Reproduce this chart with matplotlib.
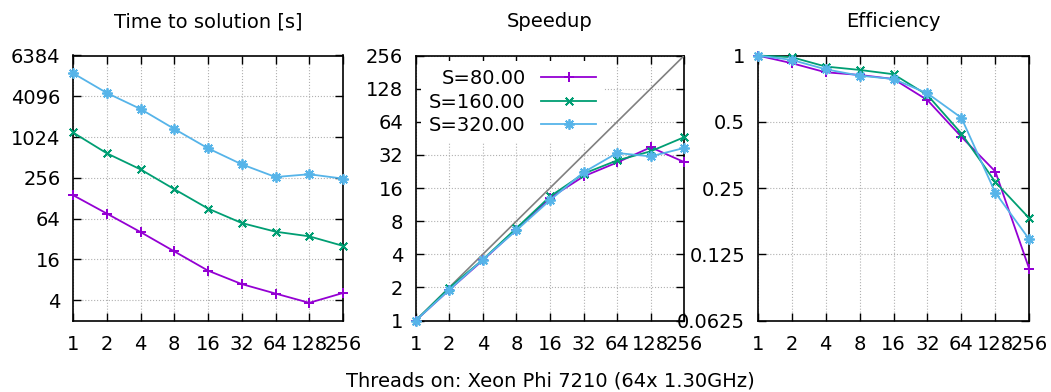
import matplotlib
matplotlib.use("Agg")
import matplotlib.pyplot as plt
import numpy as np

plt.rcParams['font.family'] = ['DejaVu Sans']

threads = [1, 2, 4, 8, 16, 32, 64, 128, 256]
labels = ["S=80.00", "S=160.00", "S=320.00"]
colors = ["#9400d3", "#009e73", "#56b4e9"]

time_s80 = [142, 76, 40.5, 21, 10.9, 6.9, 5.0, 3.65, 5.1]
time_s160 = [1195, 590, 341, 174, 90, 55, 41, 35, 25.3]
time_s320 = [8980, 4590, 2660, 1350, 698, 405, 263, 289, 249]

speed_s80 = [1, 1.9, 3.53, 6.7, 13.0, 20.4, 27.3, 37.5, 27.5]
speed_s160 = [1, 1.98, 3.58, 6.9, 13.4, 21.6, 28.5, 34.5, 46.4]
speed_s320 = [1, 1.9, 3.58, 6.6, 12.4, 22.2, 33.3, 31.0, 37.0]

eff_s80 = [1, 0.923, 0.839, 0.816, 0.782, 0.627, 0.427, 0.297, 0.107]
eff_s160 = [1, 0.983, 0.891, 0.86, 0.822, 0.661, 0.442, 0.266, 0.182]
eff_s320 = [1, 0.955, 0.866, 0.81, 0.782, 0.673, 0.521, 0.238, 0.146]

time_ticks = [4, 16, 64, 256, 1024, 4096, 16384]
time_ticklabels = ["4", "16", "64", "256", "1024", "4096", "6384"]
speed_ticks = [1, 2, 4, 8, 16, 32, 64, 128, 256]
eff_ticks = [0.0625, 0.125, 0.25, 0.5, 1]
eff_ticklabels = ["0.0625", "0.125", "0.25", "0.5", "1"]

titles = ["Time to solution [s]", "Speedup", "Efficiency"]
xlabel = "Threads on: Xeon Phi 7210 (64x 1.30GHz)"

markers = [(4, 2, 0), (4, 2, 45), (8, 2, 0)]

W, H = 1051, 392
fig = plt.figure(figsize=(W / 100, H / 100), dpi=100)

top_px, bot_px = 55.5, 320.5
lefts = [73, 415.7, 757.7]
rights = [343, 684.3, 1029.3]
axes = []
for l, r in zip(lefts, rights):
    ax = fig.add_axes([l / W, 1 - bot_px / H, (r - l) / W, (bot_px - top_px) / H])
    axes.append(ax)

FS = 14

def style(ax):
    ax.set_xscale('log', base=2)
    ax.set_yscale('log', base=2)
    ax.set_xlim(1, 256)
    ax.set_xticks(threads)
    ax.set_xticklabels([str(t) for t in threads])
    ax.minorticks_off()
    ax.tick_params(axis='both', which='major', direction='in', length=6, width=1,
                   top=True, right=True, labelsize=FS, colors='black')
    ax.tick_params(axis='x', pad=10.5)
    ax.tick_params(axis='y', pad=9)
    ax.grid(True, which='major', color='#b0b0b0', linestyle=':', linewidth=0.8)
    for s in ax.spines.values():
        s.set_linewidth(1.2)

series_sets = [
    [time_s80, time_s160, time_s320],
    [speed_s80, speed_s160, speed_s320],
    [eff_s80, eff_s160, eff_s320],
]

for i, ax in enumerate(axes):
    style(ax)
    if i == 1:
        ax.plot([threads[0], threads[-1]], [threads[0], threads[-1]], color='#808080', lw=1.2, zorder=6)
    for vals, c, m, lab in zip(series_sets[i], colors, markers, labels):
        ax.plot(threads, vals, color=c, lw=1.3, marker=m, markersize=7.5, markeredgewidth=1.3,
                label=lab, zorder=7, clip_on=False)
    ax.set_title(titles[i], fontsize=FS, pad=20.5)

axes[0].set_ylim(2, 16384)
axes[0].set_yticks(time_ticks)
axes[0].set_yticklabels(time_ticklabels)
axes[0].minorticks_off()

axes[1].set_ylim(1, 256)
axes[1].set_yticks(speed_ticks)
axes[1].set_yticklabels([str(t) for t in speed_ticks])
axes[1].minorticks_off()

axes[2].set_ylim(0.0625, 1)
axes[2].set_yticks(eff_ticks)
axes[2].set_yticklabels(eff_ticklabels)
axes[2].minorticks_off()

leg = axes[1].legend(loc='upper right', bbox_to_anchor=(0.701, 0.978), borderaxespad=0,
                     markerfirst=False, fontsize=FS, frameon=True, facecolor='white',
                     edgecolor='none', framealpha=1, fancybox=False, borderpad=0.4,
                     labelspacing=0.23, handlelength=2.83, handletextpad=0.8)
leg.set_zorder(5)

fig.text(550 / W, 1 - 381 / H, xlabel, ha='center', va='center', fontsize=FS)

# right-align legend texts (measure how position maps to pixels first)
fig.canvas.draw()
rnd = fig.canvas.get_renderer()
texts = leg.get_texts()
x1s = [t.get_window_extent(rnd).x1 for t in texts]
target = max(x1s)
t0 = texts[0]
t0.set_position((10, 0))
fig.canvas.draw()
scale = (t0.get_window_extent(rnd).x1 - x1s[0]) / 10.0
if scale <= 0:
    scale = 1.0
for t, x1 in zip(texts, x1s):
    t.set_position(((target - x1) / scale, 0))

fig.savefig("out.png", dpi=100)
